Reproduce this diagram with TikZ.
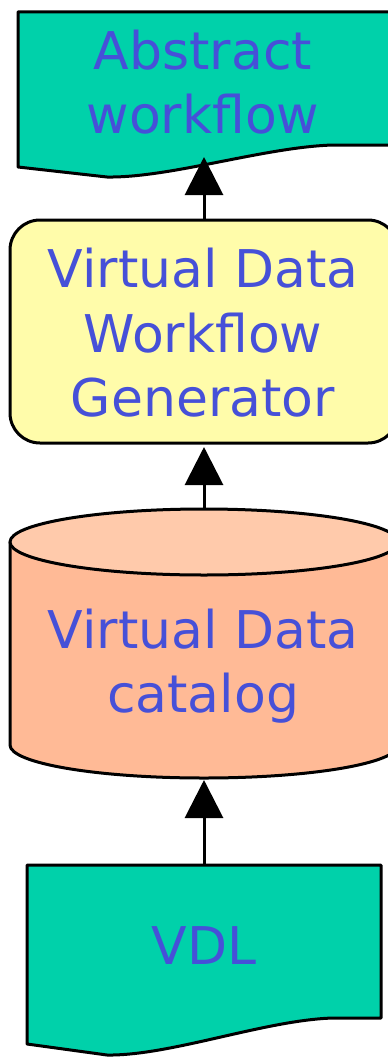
\documentclass[tikz,border=0pt]{standalone}
\usepackage{fontspec}
\newfontfamily\labelfont{DejaVu Sans}
\usetikzlibrary{arrows.meta}

\definecolor{docfill}{RGB}{0,209,170}
\definecolor{genfill}{RGB}{255,252,170}
\definecolor{cylbody}{RGB}{255,186,150}
\definecolor{cyltop}{RGB}{255,202,171}
\definecolor{labelblue}{RGB}{70,80,216}

\tikzset{
  outline/.style={draw=black, line width=3pt, line join=round},
  label text/.style={text=labelblue, align=center, inner sep=0pt,
    font=\labelfont\fontsize{52}{64.5}\selectfont},
  link/.style={line width=3pt, -{Triangle[width=38pt,length=38pt]}},
}

\begin{document}
\begin{tikzpicture}[x=1pt,y=-1pt]
  \useasboundingbox (0,0) rectangle (388,1057);

  % output document: abstract workflow
  \path[outline, fill=docfill]
    (18,12) -- (390,12) -- (390,145) -- (333,145)
    .. controls (265,147) and (170,178) .. (107,177) -- (18,167) -- cycle;
  \node[label text] (abs) at (203,82) {Abstract\\workflow};
  \coordinate (abs-bot) at (204,157);

  % generator box
  \path[outline, fill=genfill, rounded corners=30pt] (10,220) rectangle (398,443);
  \node[label text] (gen) at (203,333) {Virtual Data\\Workflow\\Generator};
  \coordinate (gen-top) at (204,220);
  \coordinate (gen-bot) at (204,447);

  % catalog cylinder (y axis points down, so the lower rim runs through 90 degrees)
  \path[outline, fill=cylbody]
    (10,542) -- (10,745) arc[start angle=180, end angle=0, x radius=194, y radius=33]
    -- (398,542) -- cycle;
  \path[outline, fill=cyltop] (204,542) ellipse [x radius=194, y radius=33];
  \node[label text] (cat) at (203,666) {Virtual Data\\catalog};
  \coordinate (cat-top) at (204,508);
  \coordinate (cat-bot) at (204,780);

  % input document: VDL
  \path[outline, fill=docfill]
    (27,865) -- (381,865) -- (381,1018) -- (333,1018)
    .. controls (265,1020) and (170,1056) .. (107,1055) -- (27,1044) -- cycle;
  \node[label text] (vdl) at (204,946) {VDL};
  \coordinate (vdl-top) at (204,865);

  % connectors
  \draw[link] (gen-top) -- (abs-bot);
  \draw[link] (cat-top) -- (gen-bot);
  \draw[link] (vdl-top) -- (cat-bot);
\end{tikzpicture}
\end{document}
